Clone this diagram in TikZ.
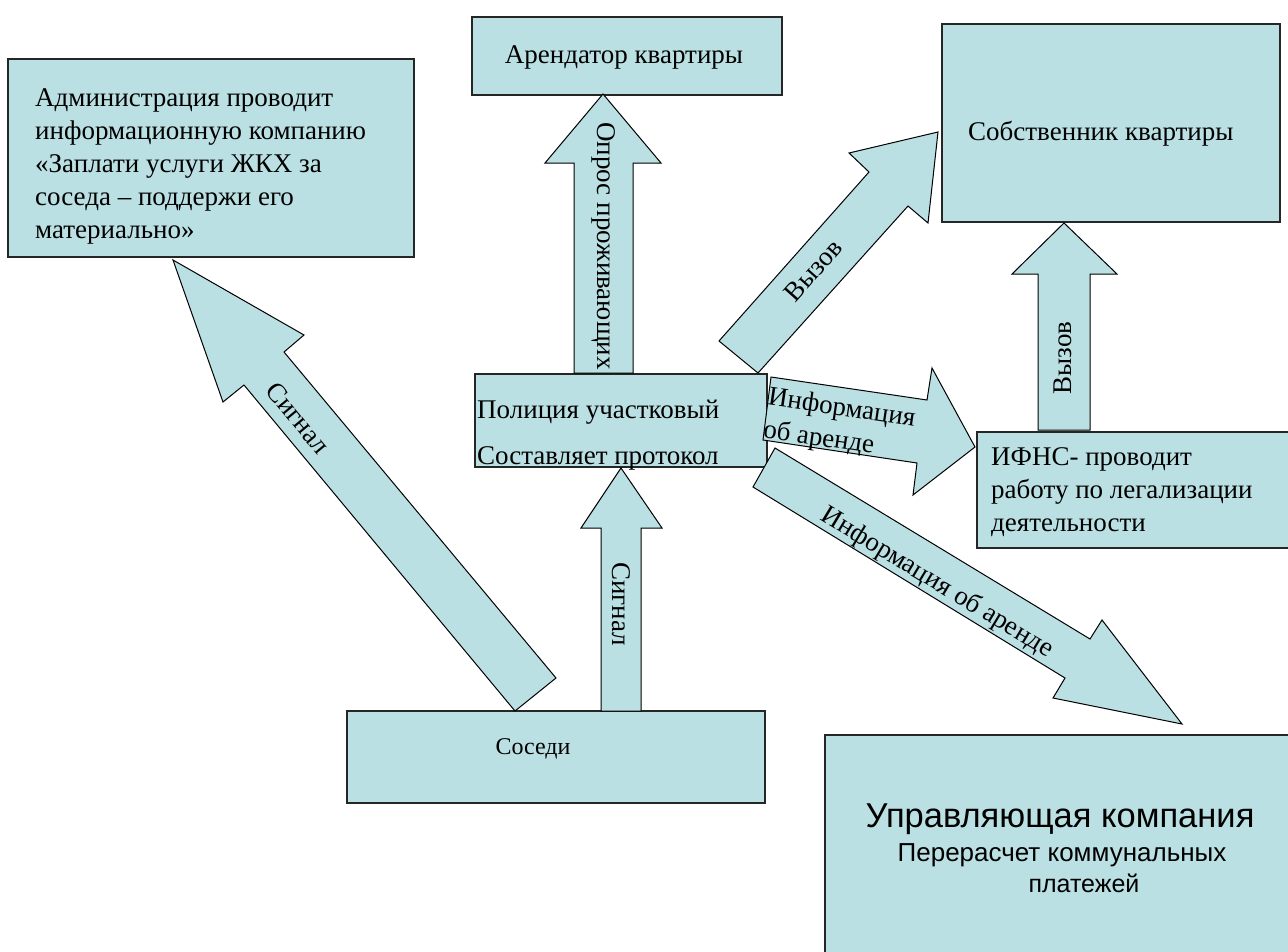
\documentclass[tikz,border=0pt]{standalone}
\usepackage{fontspec}
\setmainfont{Liberation Serif}
\newfontfamily\rufont{Liberation Serif}
\newfontfamily\ukfont{Liberation Sans}
\definecolor{boxfill}{RGB}{187,224,227}
\tikzset{
  panel/.style={draw=black!85, fill=boxfill, line width=1.3pt, inner sep=0pt, outer sep=0pt},
  blockarrow/.style={draw=black, fill=boxfill, line width=1pt, line join=miter},
  lbl/.style={font=\rufont\fontsize{27}{33}\selectfont, inner sep=0pt},
  uklbl/.style={inner sep=0pt},
}
\begin{document}
\begin{tikzpicture}[x=1pt,y=-1pt]
\useasboundingbox (0,0) rectangle (1288,951);
\fill[white] (0,0) rectangle (1288,951);

% boxes
\node[panel, anchor=north west, minimum width=406pt, minimum height=198pt] (adm) at (8,59) {};
\node[panel, anchor=north west, minimum width=310pt, minimum height=78pt] (tenant) at (472,17) {};
\node[panel, anchor=north west, minimum width=338pt, minimum height=198pt] (owner) at (942,24) {};
\node[panel, anchor=north west, minimum width=292pt, minimum height=93pt] (police) at (475,374) {};
\node[panel, anchor=north west, minimum width=320pt, minimum height=116pt] (ifns) at (977,432) {};
\node[panel, anchor=north west, minimum width=418pt, minimum height=92pt] (neigh) at (347,711) {};
\node[panel, anchor=north west, minimum width=475pt, minimum height=230pt] (uk) at (825,735) {};

% block arrows
\draw[blockarrow] (574,373) -- (574,163) -- (545,163) -- (603,94) -- (661,163) -- (633,163) -- (633,373) -- cycle;
\draw[blockarrow] (601,711) -- (601,528) -- (581,528) -- (621,468) -- (662,528) -- (641,528) -- (641,711) -- cycle;
\draw[blockarrow] (515,711) -- (244,385) -- (223,402) -- (173,260) -- (304,335) -- (284,352) -- (556,678) -- cycle;
\draw[blockarrow] (719,341) -- (869,172) -- (849,153) -- (938,132) -- (928,223) -- (908,206) -- (758,373) -- cycle;
\draw[blockarrow] (1038,430) -- (1038,274) -- (1012,274) -- (1064,223) -- (1117,274) -- (1090,274) -- (1090,430) -- cycle;
\draw[blockarrow] (763,440) -- (771,377) -- (927,400) -- (932,368) -- (975,447) -- (913,495) -- (917,463) -- cycle;
\draw[blockarrow] (753,487) -- (775,448) -- (1090,639) -- (1102,620) -- (1182,724) -- (1053,698) -- (1065,678) -- cycle;

% box texts
\node[lbl, anchor=north west, align=left] (admtxt) at (35,88) {Администрация проводит\\информационную компанию\\«Заплати услуги ЖКХ за\\соседа – поддержи его\\материально»};
\node[lbl] (tenanttxt) at (624,57) {Арендатор квартиры};
\node[lbl, anchor=base west] (ownertxt) at (968,140) {Собственник квартиры};
\node[lbl, anchor=base west] (poltxt1) at (477,418) {Полиция участковый};
\node[lbl, anchor=base west] (poltxt2) at (477,464) {Составляет протокол};
\node[lbl, anchor=north west, align=left] (ifnstxt) at (991,447) {ИФНС- проводит\\работу по легализации\\деятельности};
\node[lbl, font=\rufont\fontsize{24}{28}\selectfont] (neightxt) at (533,749) {Соседи};
\node[uklbl, anchor=base, font=\ukfont\fontsize{34.5}{40}\selectfont] (uk1) at (1060,827) {Управляющая компания};
\node[uklbl, anchor=base, font=\ukfont\fontsize{26}{30}\selectfont] (uk2) at (1062,861) {Перерасчет коммунальных};
\node[uklbl, anchor=base, font=\ukfont\fontsize{25}{30}\selectfont] (uk3) at (1084,892) {платежей};

% arrow labels
\node[lbl, rotate=-90] (l1) at (604,246) {Опрос проживающих};
\node[lbl, rotate=-90] (l2) at (621,604) {Сигнал};
\node[lbl, rotate=-50.3] (l3) at (298,418) {Сигнал};
\node[lbl, rotate=48.4] (l4) at (813,270) {Вызов};
\node[lbl, rotate=90] (l5) at (1063,358) {Вызов};
\node[lbl, rotate=-8.4, anchor=north west, align=left] (l6) at (770,386) {Информация\\об аренде};
\node[lbl, rotate=-31.2] (l7) at (937,583) {Информация об аренде};
\end{tikzpicture}
\end{document}
